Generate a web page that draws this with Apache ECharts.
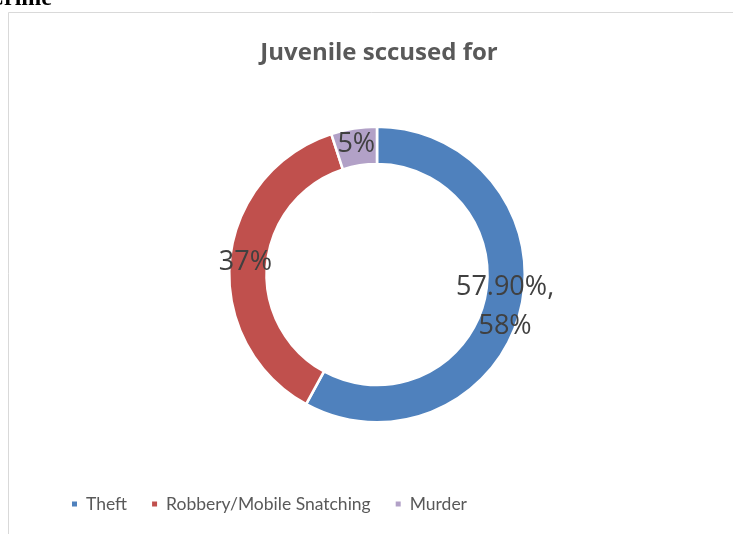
<!DOCTYPE html>
<html>
<head>
<meta charset="utf-8">
<script src="https://cdn.jsdelivr.net/npm/echarts@6/dist/echarts.min.js"></script>
<style>
  html, body { margin: 0; padding: 0; background: #fff; }
  #chart { width: 733px; height: 534px; }
</style>
</head>
<body>
<div id="chart"></div>
<script>
// Offences juveniles were accused of (share of cases, %)
const categories = ['Theft', 'Robbery/Mobile Snatching', 'Murder'];
const values = [57.9, 37, 5];
const colors = ['#4F81BD', '#C0504D', '#B2A1C7'];
// Slices whose label also states the raw value before the share
const showValueInLabel = [true, false, false];

const chart = echarts.init(document.getElementById('chart'), null, { renderer: 'canvas' });

const option = {
  animation: false,
  backgroundColor: '#fff',
  title: {
    text: 'Juvenile sccused for',
    left: 374,
    textAlign: 'center',
    top: 36,
    textStyle: {
      fontFamily: 'Open Sans',
      fontSize: 24,
      fontWeight: 'bold',
      color: '#595959'
    }
  },
  legend: {
    data: categories,
    left: 65,
    top: 490,
    icon: 'rect',
    itemWidth: 7,
    itemHeight: 7,
    itemGap: 23,
    textStyle: {
      fontFamily: 'Lato',
      fontSize: 17.5,
      color: '#595959',
      padding: [0, 0, 0, 3]
    }
  },
  graphic: [
    {
      type: 'rect',
      shape: { x: 8.5, y: 12.5, width: 760, height: 560 },
      style: { fill: 'none', stroke: '#D9D9D9', lineWidth: 1 },
      silent: true
    },
    {
      type: 'text',
      x: 52,
      y: 11,
      style: {
        text: 'Crime',
        fontFamily: 'Liberation Serif',
        fontSize: 24,
        fontWeight: 'bold',
        fill: '#000',
        align: 'right',
        verticalAlign: 'bottom'
      },
      silent: true
    }
  ],
  series: [
    {
      type: 'pie',
      center: [377, 274.5],
      radius: [110.5, 147.8],
      startAngle: 90,
      clockwise: true,
      avoidLabelOverlap: false,
      itemStyle: { borderColor: '#fff', borderWidth: 2.6 },
      label: {
        show: true,
        position: 'inside',
        fontFamily: 'Open Sans',
        fontSize: 27,
        lineHeight: 39,
        color: '#404040',
        formatter: function (p) {
          const pct = Math.round(p.percent) + '%';
          return showValueInLabel[p.dataIndex]
            ? p.value.toFixed(2) + '%,\n' + pct
            : pct;
        }
      },
      labelLine: { show: false },
      emphasis: { disabled: true },
      data: categories.map(function (name, i) {
        return { name: name, value: values[i], itemStyle: { color: colors[i] } };
      })
    }
  ]
};

chart.setOption(option);
</script>
</body>
</html>
